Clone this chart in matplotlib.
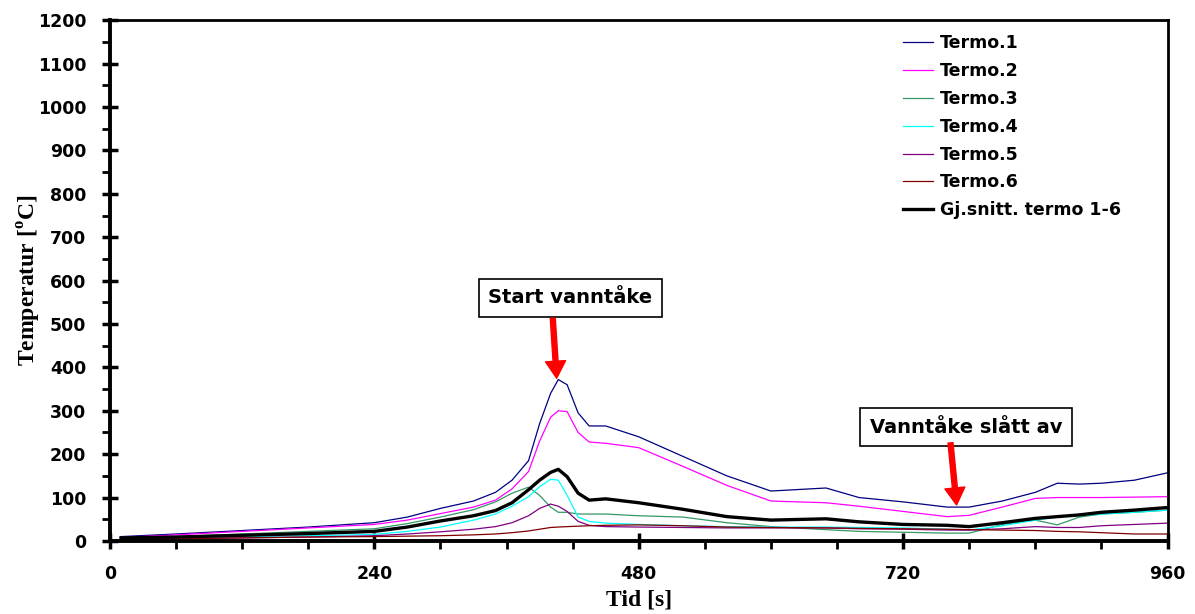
import matplotlib
matplotlib.use("Agg")
import matplotlib.pyplot as plt
from matplotlib.ticker import MultipleLocator
from matplotlib.font_manager import FontProperties

t = [10, 60, 120, 180, 240, 270, 300, 330, 350, 365, 380, 390, 400, 407, 415, 425, 435,
     450, 480, 520, 560, 600, 650, 680, 720, 760, 780, 810, 840, 860, 880, 900, 930, 960]

termo1 = [10, 16, 24, 32, 42, 55, 75, 92, 112, 140, 185, 270, 340, 372, 360, 295, 265,
          265, 240, 195, 150, 115, 122, 100, 90, 78, 78, 92, 112, 133, 131, 133, 140, 157]
termo2 = [8, 14, 22, 30, 38, 48, 63, 78, 94, 120, 160, 230, 285, 300, 298, 250, 228,
          225, 215, 172, 128, 92, 88, 80, 68, 56, 59, 78, 98, 100, 100, 100, 101, 102]
termo3 = [7, 10, 16, 22, 28, 40, 55, 72, 90, 110, 124, 105, 78, 66, 66, 62, 62,
          62, 58, 55, 42, 33, 26, 22, 20, 18, 18, 38, 48, 37, 55, 62, 66, 71]
termo4 = [5, 8, 10, 12, 15, 22, 32, 48, 62, 80, 102, 125, 142, 140, 105, 55, 45,
          41, 38, 35, 33, 32, 32, 31, 30, 27, 25, 35, 48, 55, 58, 62, 66, 71]
termo5 = [4, 5, 7, 9, 12, 16, 21, 27, 33, 42, 58, 75, 85, 80, 68, 45, 36,
          33, 32, 31, 30, 30, 30, 28, 27, 25, 25, 28, 33, 31, 31, 35, 38, 41]
termo6 = [4, 5, 7, 9, 10, 11, 12, 14, 16, 19, 23, 27, 31, 32, 33, 34, 35,
          36, 37, 35, 32, 31, 30, 29, 28, 27, 26, 25, 24, 22, 21, 19, 16, 16]
snitt = [7, 9, 13, 17, 22, 32, 46, 58, 70, 88, 118, 140, 158, 165, 148, 110, 94,
         97, 88, 73, 56, 48, 51, 44, 38, 36, 33, 42, 52, 56, 60, 66, 71, 77]

labels = ["Termo.1", "Termo.2", "Termo.3", "Termo.4", "Termo.5", "Termo.6",
          "Gj.snitt. termo 1-6"]
colors = ["#000080", "#FF00FF", "#339966", "#00FFFF", "#800080", "#800000", "#000000"]
series = [termo1, termo2, termo3, termo4, termo5, termo6, snitt]

fig = plt.figure(figsize=(11.95, 6.14), dpi=100)
ax = fig.add_axes([0.092, 0.119, 0.885, 0.848])

for s, c, lab in zip(series, colors, labels):
    lw = 2.4 if c == "#000000" else 0.9
    ax.plot(t, s, color=c, lw=lw, label=lab)

ax.set_xlim(0, 960)
ax.set_ylim(0, 1200)
ax.xaxis.set_major_locator(MultipleLocator(240))
ax.xaxis.set_minor_locator(MultipleLocator(60))
ax.yaxis.set_major_locator(MultipleLocator(100))
ax.yaxis.set_minor_locator(MultipleLocator(50))

sansb = FontProperties(family="DejaVu Sans", weight="bold", size=12.5)
ax.tick_params(axis="both", which="major", direction="inout", length=12, width=2.5, pad=11)
ax.tick_params(axis="both", which="minor", direction="out", length=6, width=2)
for lbl in ax.get_xticklabels() + ax.get_yticklabels():
    lbl.set_fontproperties(sansb)

for side in ["left", "bottom"]:
    ax.spines[side].set_linewidth(2.8)
for side in ["top", "right"]:
    ax.spines[side].set_linewidth(2.0)

ax.set_xlabel("Tid [s]", family="Liberation Serif", weight="bold", fontsize=17, labelpad=5)
ax.set_ylabel("Temperatur [$^{\\mathregular{o}}$C]", family="Liberation Serif",
              weight="bold", fontsize=17, labelpad=-4)

leg = ax.legend(loc="upper left", bbox_to_anchor=(903 / 1195, 1 - 34 / 614),
                bbox_transform=fig.transFigure, frameon=False, prop=sansb,
                borderpad=0, borderaxespad=0,
                handlelength=1.72, handletextpad=0.4, labelspacing=0.57)

boxprops = dict(boxstyle="square,pad=0.5", fc="white", ec="black", lw=1.2)
arrowprops = dict(arrowstyle="simple,head_length=0.85,head_width=1.0,tail_width=0.25",
                  color="red", mutation_scale=14.4, shrinkA=0, shrinkB=0)

ax.text(418, 560, "Start vanntåke", fontsize=14, family="DejaVu Sans", weight="bold",
        ha="center", va="center", bbox=boxprops)
ax.annotate("", xy=(405.5, 375), xytext=(402, 513), arrowprops=arrowprops)

ax.text(777.5, 262, "Vanntåke slått av", fontsize=14, family="DejaVu Sans", weight="bold",
        ha="center", va="center", bbox=boxprops)
ax.annotate("", xy=(768.5, 83), xytext=(763, 226), arrowprops=arrowprops)

fig.savefig("out.png", dpi=100)
